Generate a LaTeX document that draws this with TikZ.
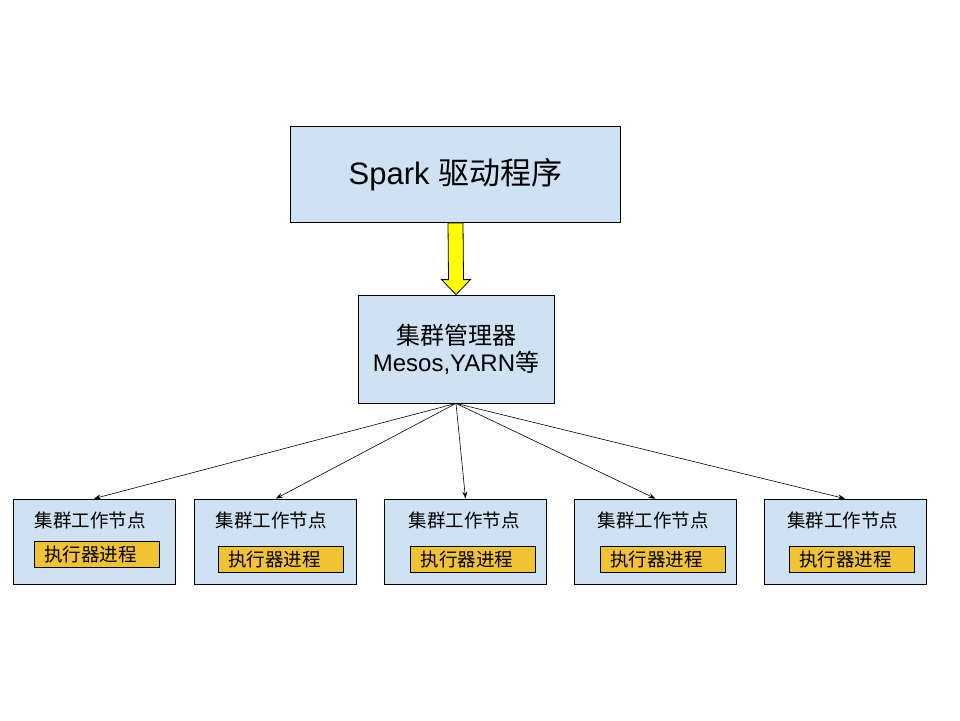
\documentclass[tikz,border=0pt]{standalone}
\usepackage{fontspec}
\setmainfont{Liberation Sans}
\newfontfamily\cjk{Noto Sans CJK SC}
\usetikzlibrary{arrows.meta}
\usetikzlibrary{calc}
\definecolor{mlblue}{RGB}{207,226,243}
\definecolor{morange}{RGB}{241,194,50}
\definecolor{myellow}{RGB}{255,255,0}

\tikzset{
  box/.style={draw, line width=0.8pt, fill=mlblue, inner sep=0pt},
  worker/.style={box, minimum width=162pt, minimum height=85pt},
  proc/.style={draw, line width=0.8pt, fill=morange, minimum height=26pt,
    text width=105pt, inner xsep=10pt, inner ysep=0pt, align=left,
    font=\cjk\fontsize{18.5}{20}\selectfont},
  wtext/.style={inner sep=0pt, font=\cjk\fontsize{18.5}{20}\selectfont},
  link/.style={-{Stealth[length=7pt,width=5pt]}, line width=0.6pt}
}

\begin{document}
\begin{tikzpicture}[x=1pt, y=-1pt]
      \useasboundingbox (0,0) rectangle (960,720);

      \node (driver) at (455.5, 174.5) [box, minimum width=330pt, minimum height=96pt,
        font=\fontsize{31}{34}\selectfont] {Spark {\cjk 驱动程序}};
      \node (manager) at (456, 349) [box, minimum width=196pt, minimum height=108pt,
        align=center, font=\fontsize{24}{27}\selectfont]
        {{\cjk 集群管理器}\\Mesos,YARN{\cjk 等}};

      \filldraw [fill=myellow, line width=0.8pt]
        ($(driver.south)+(-7.5,0)$) -- ($(manager.north)+(-7.5,-15)$)
        -- ($(manager.north)+(-14.5,-15)$) -- (manager.north)
        -- ($(manager.north)+(14.5,-15)$) -- ($(manager.north)+(7.5,-15)$)
        -- ($(driver.south)+(7.5,0)$) -- cycle;

      \node (w1) at (94, 541.5) [worker] {};
      \node (w2) at (275.8, 541.5) [worker] {};
      \node (w3) at (465.5, 541.5) [worker] {};
      \node (w4) at (655.5, 541.5) [worker] {};
      \node (w5) at (845, 541.5) [worker] {};

      \node (h1) at (90, 520) [wtext] {集群工作节点};
      \node (h2) at (271, 520) [wtext] {集群工作节点};
      \node (h3) at (464, 520) [wtext] {集群工作节点};
      \node (h4) at (653, 520) [wtext] {集群工作节点};
      \node (h5) at (842.5, 520) [wtext] {集群工作节点};

      \node (p1) at (96.8, 554) [proc] {执行器进程};
      \node (p2) at (280.8, 559) [proc] {执行器进程};
      \node (p3) at (473, 559) [proc] {执行器进程};
      \node (p4) at (662.5, 559) [proc] {执行器进程};
      \node (p5) at (851.8, 559) [proc] {执行器进程};

      \draw [link] (manager.south) -- (w1.north);
      \draw [link] (manager.south) -- (w2.north);
      \draw [link] (manager.south) -- (w3.north);
      \draw [link] (manager.south) -- (w4.north);
      \draw [link] (manager.south) -- (w5.north);
    \end{tikzpicture}
\end{document}
